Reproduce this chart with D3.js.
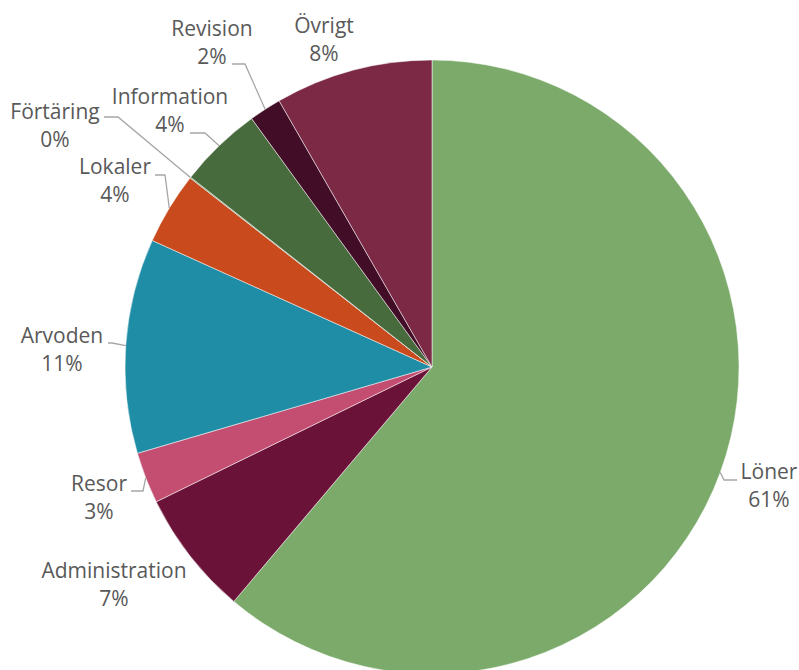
<!DOCTYPE html>
<html>
<head>
<meta charset="utf-8">
<script src="https://cdn.jsdelivr.net/npm/d3@7/dist/d3.min.js"></script>
<style>
  body { margin: 0; background: #fff; }
  svg { display: block; }
</style>
</head>
<body>
<div id="chart"></div>
<script>
// kategorier och andelar (procent), medurs från klockan tolv
var categories = ['Löner', 'Administration', 'Resor', 'Arvoden', 'Lokaler', 'Förtäring', 'Information', 'Revision', 'Övrigt'];
var shares = [61.2, 6.6, 2.7, 11.3, 3.8, 0.05, 4.4, 1.7, 8.3];
var percentLabels = ['61%', '7%', '3%', '11%', '4%', '0%', '4%', '2%', '8%'];
var colors = ['#7BAA6A', '#6B1238', '#C44E72', '#1F8DA5', '#C94A1D', '#5B7F4C', '#476B3D', '#420D26', '#7B2944'];

var width = 799, height = 670;
var cx = 432, cy = 367, radius = 307;

// label placement: text centre x, first baseline y, leader elbow and end (null = no leader)
var labelLayout = [
    {x: 769, y: 479, elbow: [724, 480], end: [737, 480]},
    {x: 114, y: 578, elbow: null, end: null},
    {x: 99,  y: 491, elbow: [143, 491], end: [131, 491]},
    {x: 62,  y: 343, elbow: [112, 343], end: [108, 343]},
    {x: 115, y: 174, elbow: [165, 175], end: [155, 175]},
    {x: 55,  y: 119, elbow: [118, 117], end: [104, 117]},
    {x: 170, y: 104, elbow: [205, 133], end: [190, 133]},
    {x: 212, y: 36,  elbow: [245, 64],  end: [232, 64]},
    {x: 324, y: 33,  elbow: null, end: null}
];

var data = categories.map(function(c, i) {
    return {name: c, value: shares[i], pct: percentLabels[i], color: colors[i], layout: labelLayout[i]};
});

var svg = d3.select('#chart').append('svg')
    .attr('width', width)
    .attr('height', height);

var g = svg.append('g')
    .attr('transform', 'translate(' + cx + ',' + cy + ')');

var pie = d3.pie()
    .sort(null)
    .value(function(d) { return d.value; });

var arc = d3.arc()
    .innerRadius(0)
    .outerRadius(radius);

var arcs = pie(data);

g.selectAll('.slice')
    .data(arcs)
    .enter()
    .append('path')
    .attr('class', 'slice')
    .attr('d', arc)
    .attr('fill', function(d) { return d.data.color; })
    .attr('stroke', '#ffffff')
    .attr('stroke-width', 0.5);

// leader lines from the slice edge
function edgePoint(d) {
    var a = (d.startAngle + d.endAngle) / 2;
    return [cx + Math.sin(a) * radius, cy - Math.cos(a) * radius];
}

svg.selectAll('.leader')
    .data(arcs.filter(function(d) { return d.data.layout.elbow; }))
    .enter()
    .append('polyline')
    .attr('class', 'leader')
    .attr('points', function(d) {
        var p = edgePoint(d);
        return [p, d.data.layout.elbow, d.data.layout.end].map(function(q) { return q.join(','); }).join(' ');
    })
    .attr('fill', 'none')
    .attr('stroke', '#A6A6A6')
    .attr('stroke-width', 1.3);

var labels = svg.selectAll('.label')
    .data(arcs)
    .enter()
    .append('text')
    .attr('class', 'label')
    .attr('text-anchor', 'middle')
    .style('font-family', '"Open Sans", sans-serif')
    .style('font-size', '21px')
    .style('fill', '#595959');

labels.append('tspan')
    .attr('x', function(d) { return d.data.layout.x; })
    .attr('y', function(d) { return d.data.layout.y; })
    .text(function(d) { return d.data.name; });

labels.append('tspan')
    .attr('x', function(d) { return d.data.layout.x; })
    .attr('y', function(d) { return d.data.layout.y + 28; })
    .text(function(d) { return d.data.pct; });
</script>
</body>
</html>
